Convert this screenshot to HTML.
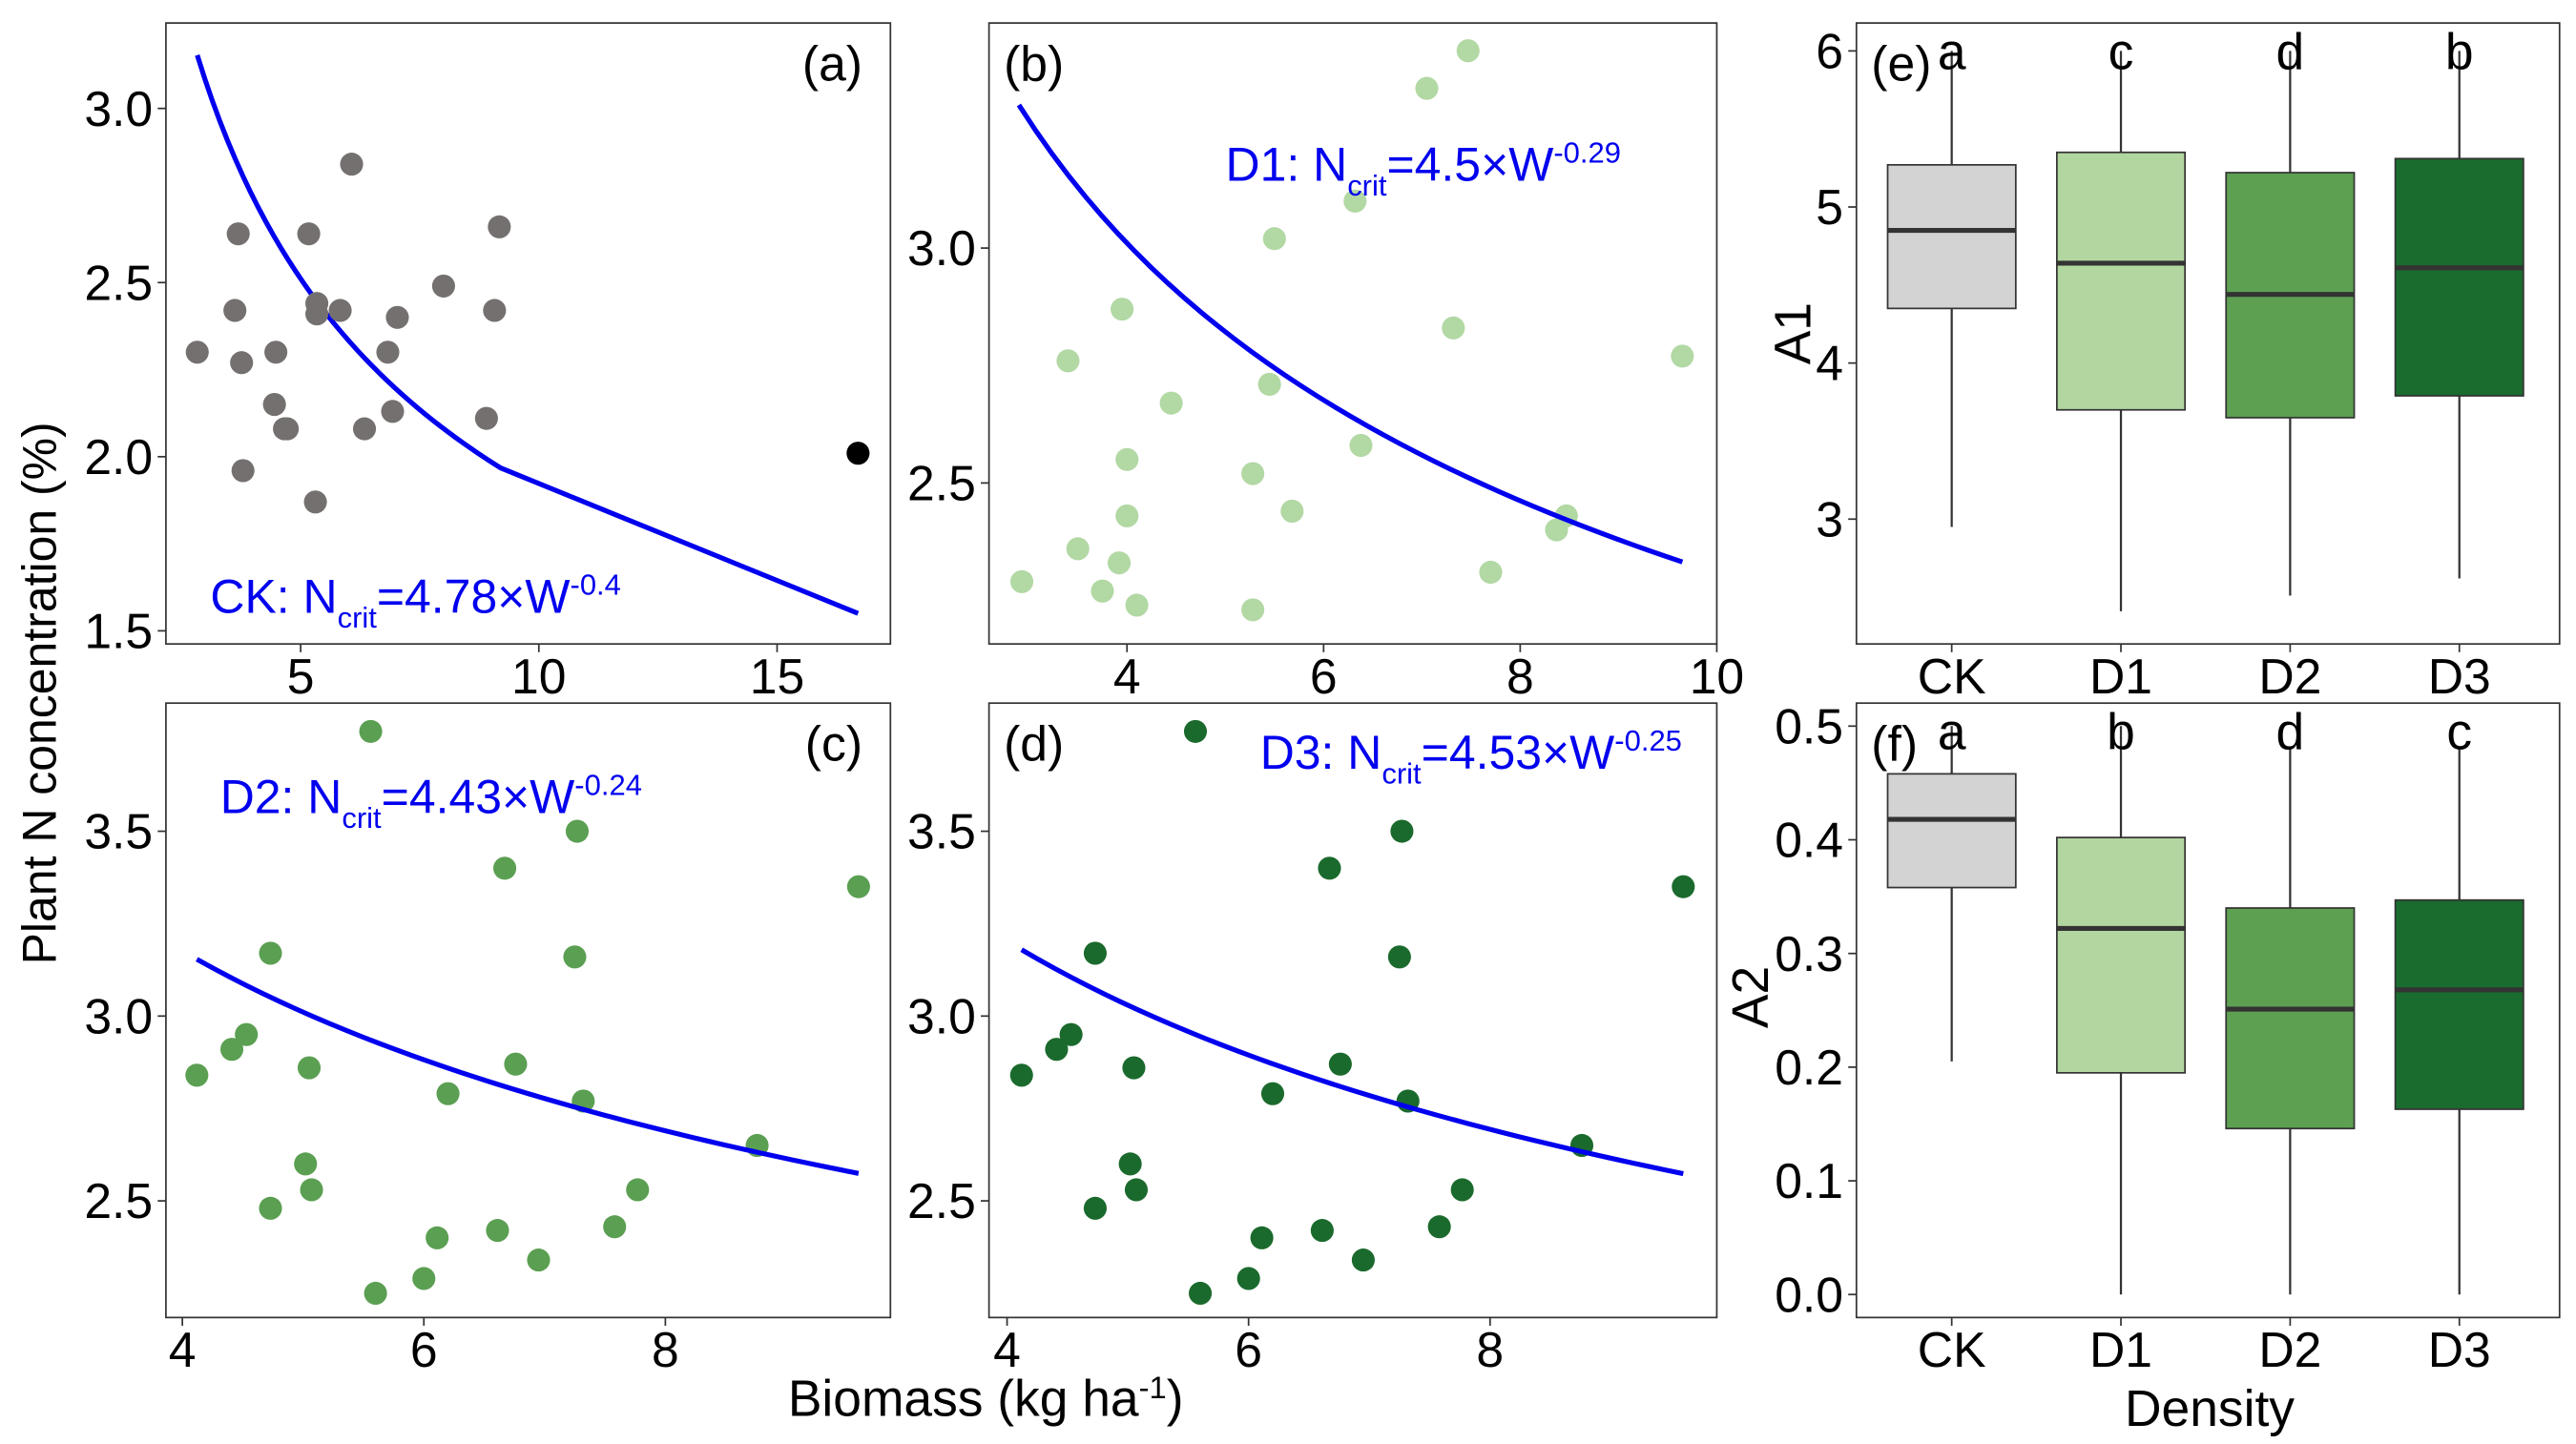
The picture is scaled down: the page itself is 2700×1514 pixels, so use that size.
<!DOCTYPE html>
<html><head><meta charset="utf-8"><style>
html,body{margin:0;padding:0;background:#fff;}
svg{display:block;font-family:"Liberation Sans",sans-serif;}
</style></head><body>
<svg id="fig" width="2700" height="1514" viewBox="0 0 1568 879" preserveAspectRatio="none" xmlns="http://www.w3.org/2000/svg">
<rect width="1568" height="879" fill="#fff"/>
<text transform="translate(34,422) rotate(-90)" text-anchor="middle" font-size="29">Plant N concentration (%)</text>
<text x="600" y="862" text-anchor="middle" font-size="31">Biomass (kg ha<tspan dy="-11" font-size="19">-1</tspan><tspan dy="11">)</tspan></text>
<text x="1345" y="868" text-anchor="middle" font-size="31">Density</text>
<text transform="translate(1102,203) rotate(-90)" text-anchor="middle" font-size="31">A1</text>
<text transform="translate(1076,607) rotate(-90)" text-anchor="middle" font-size="31">A2</text>
<g id="plots"></g>
</svg>
<script>
// ---- scatter data ----
const aX=[2.83,3.69,3.62,3.76,3.79,4.48,4.45,4.66,4.72,5.17,5.31,5.34,5.34,5.83,6.07,6.34,6.83,6.93,7.03,8.0,8.9,9.07,9.17];
const aY=[2.30,2.64,2.42,2.27,1.96,2.30,2.15,2.08,2.08,2.64,1.87,2.44,2.41,2.42,2.84,2.08,2.30,2.13,2.40,2.49,2.11,2.42,2.66];
const aOutX=[16.7];
const aOutY=[2.01];
const bX=[2.93,3.40,3.50,3.75,3.92,4.0,4.0,4.1,3.95,4.45,5.28,5.28,5.45,5.5,5.68,6.38,6.32,7.05,7.47,7.32,7.7,8.37,8.47,9.65];
const bY=[2.29,2.76,2.36,2.27,2.33,2.55,2.43,2.24,2.87,2.67,2.23,2.52,2.71,3.02,2.44,2.58,3.10,3.34,3.42,2.83,2.31,2.40,2.43,2.77];
const cX=[4.12,4.41,4.53,4.73,4.73,5.02,5.05,5.07,5.56,5.6,6.0,6.11,6.2,6.61,6.67,6.76,6.95,7.27,7.25,7.32,7.58,7.77,8.76,9.6];
const cY=[2.84,2.91,2.95,3.17,2.48,2.60,2.86,2.53,3.77,2.25,2.29,2.40,2.79,2.42,3.40,2.87,2.34,3.50,3.16,2.77,2.43,2.53,2.65,3.35];
// curve params [a, b, xmin, xmax]
const curveA=[4.78,-0.4,2.83,9.2];
const curveALinEnd=[16.7,1.55];
const curveB=[4.5,-0.29,2.9,9.65];
const curveC=[4.43,-0.24,4.12,9.6];
const curveD=[4.53,-0.25,4.12,9.6];
// ---- box data ----
const cats=["CK","D1","D2","D3"];
const boxColors=["#d3d3d3","#b2d6a0","#5da051","#1a6b2e"];
const a1Low=[2.95,2.41,2.51,2.62];
const a1Q1=[4.35,3.70,3.65,3.79];
const a1Med=[4.85,4.64,4.44,4.61];
const a1Q3=[5.27,5.35,5.22,5.31];
const a1High=[6.0,6.0,6.0,6.0];
const a1Letters=["a","c","d","b"];
const a2Low=[0.205,0,0,0];
const a2Q1=[0.358,0.195,0.146,0.163];
const a2Med=[0.418,0.322,0.251,0.268];
const a2Q3=[0.458,0.402,0.34,0.347];
const a2High=[0.5,0.5,0.48,0.48];
const a2Letters=["a","b","d","c"];
const aXTicks=[5,10,15];
const aYTicks=["1.5","2.0","2.5","3.0"];
const bXTicks=[4,6,8,10];
const bYTicks=["2.5","3.0"];
const cXTicks=[4,6,8];
const cYTicks=["2.5","3.0","3.5"];
const eYTicks=["3","4","5","6"];
const fYTicks=["0.0","0.1","0.2","0.3","0.4","0.5"];

const NS="http://www.w3.org/2000/svg";
const root=document.getElementById('plots');
const TF=30;
function mk(tag,attrs,parent){const e=document.createElementNS(NS,tag);for(const k in attrs)e.setAttribute(k,attrs[k]);(parent||root).appendChild(e);return e;}
function lin(d0,d1,r0,r1){return v=>r0+(v-d0)*(r1-r0)/(d1-d0);}

function panel(name,L,R,T,B,sx,sy,xt,yt,label,labelRight){
  const g=mk('g',{});
  
  
  const fr=mk('rect',{x:L,y:T,width:R-L,height:B-T,fill:'none',stroke:'#333','stroke-width':1},g);
  
  
  xt.forEach(t=>{const x=sx(+t);mk('line',{x1:x,x2:x,y1:B,y2:B+5,stroke:'#333'},g);
    const tx=mk('text',{x:x,y:B+30,'text-anchor':'middle','font-size':TF},g);tx.textContent=t;
    
    });
  yt.forEach(t=>{const y=sy(+t);mk('line',{x1:L-5,x2:L,y1:y,y2:y,stroke:'#333'},g);
    const tx=mk('text',{x:L-8,y:y+10.5,'text-anchor':'end','font-size':TF},g);tx.textContent=t;
    
    });
  const pl=mk('text',{x:labelRight?R-17:L+9,y:T+35,'text-anchor':labelRight?'end':'start','font-size':30},g);
  pl.textContent=label;
  
  
  return g;
}
function points(g,X,Y,sx,sy,col){
  X.forEach((x,i)=>{const c=mk('circle',{cx:sx(x),cy:sy(Y[i]),r:7,fill:col},g);
    
    });
}
function curve(g,p,sx,sy,extra){
  let d='';const n=40;
  for(let i=0;i<=n;i++){const w=p[2]+(p[3]-p[2])*i/n;d+=(i?'L':'M')+sx(w)+','+sy(p[0]*Math.pow(w,p[1]));}
  if(extra)d+='L'+sx(extra[0])+','+sy(extra[1]);
  const e=mk('path',{d:d,fill:'none',stroke:'#0000ee','stroke-width':3},g);
  
  
}
function eq(g,x,y,pre,coef,exp){
  const t=mk('text',{x:x,y:y,fill:'#0000ee','font-size':29},g);
  t.innerHTML=pre+': N<tspan dy="9" font-size="18">crit</tspan><tspan dy="-9">='+coef+'×W</tspan><tspan dy="-11" font-size="18">'+exp+'</tspan>';
  
  
}
// (a)
let sx=lin(0,10,38,328),sy=lin(2,3,278,66);
let g=panel('panel-a',101,542,14,392,sx,sy,aXTicks,aYTicks,'(a)',true);
curve(g,curveA,sx,sy,curveALinEnd);
points(g,aX,aY,sx,sy,'#757070');points(g,aOutX,aOutY,sx,sy,'#000');
eq(g,128,373,'CK','4.78','-0.4');
// (b)
sx=lin(4,10,686,1045);sy=lin(2.5,3,294,151);
g=panel('panel-b',602,1045,14,392,sx,sy,bXTicks,bYTicks,'(b)',false);
points(g,bX,bY,sx,sy,'#b2d8a4');curve(g,curveB,sx,sy);
eq(g,746,110,'D1','4.5','-0.29');
// (c)
sx=lin(4,8,111,405);sy=lin(2.5,3.5,731,506);
g=panel('panel-c',101,542,428,802,sx,sy,cXTicks,cYTicks,'(c)',true);
points(g,cX,cY,sx,sy,'#5b9f52');curve(g,curveC,sx,sy);
eq(g,134,495,'D2','4.43','-0.24');
// (d)
sx=lin(4,8,613,907);sy=lin(2.5,3.5,731,506);
g=panel('panel-d',602,1045,428,802,sx,sy,cXTicks,cYTicks,'(d)',false);
points(g,cX,cY,sx,sy,'#1b6a2d');curve(g,curveD,sx,sy);
eq(g,767,468,'D3','4.53','-0.25');
// boxes
function boxPanel(name,T,B,sy,yt,label,lo,q1,md,q3,hi,letters){
  const L=1130,R=1558;
  const g=panel(name,L,R,T,B,v=>0,sy,[],yt,label,false);
  const cx=i=>1188+i*103;
  cats.forEach((c,i)=>{
    const x=cx(i);
    const w=mk('line',{x1:x,x2:x,y1:sy(hi[i]),y2:sy(lo[i]),stroke:'#333','stroke-width':1.3},g);
    
    
    const b=mk('rect',{x:x-39,y:sy(q3[i]),width:78,height:sy(q1[i])-sy(q3[i]),fill:boxColors[i],stroke:'#333','stroke-width':1},g);
    
    
    const m=mk('line',{x1:x-39,x2:x+39,y1:sy(md[i]),y2:sy(md[i]),stroke:'#333','stroke-width':3},g);
    
    
    mk('line',{x1:x,x2:x,y1:B,y2:B+5,stroke:'#333'},g);
    const t=mk('text',{x:x,y:B+30,'text-anchor':'middle','font-size':TF},g);t.textContent=c;
    
    
    const l=mk('text',{x:x,y:T+28,'text-anchor':'middle','font-size':31},g);l.textContent=letters[i];
    
    
  });
}
boxPanel('panel-e',14,392,lin(3,6,316,31),eYTicks,'(e)',a1Low,a1Q1,a1Med,a1Q3,a1High,a1Letters);
boxPanel('panel-f',428,802,lin(0,0.5,788,442),fYTicks,'(f)',a2Low,a2Q1,a2Med,a2Q3,a2High,a2Letters);
</script>
</body></html>
